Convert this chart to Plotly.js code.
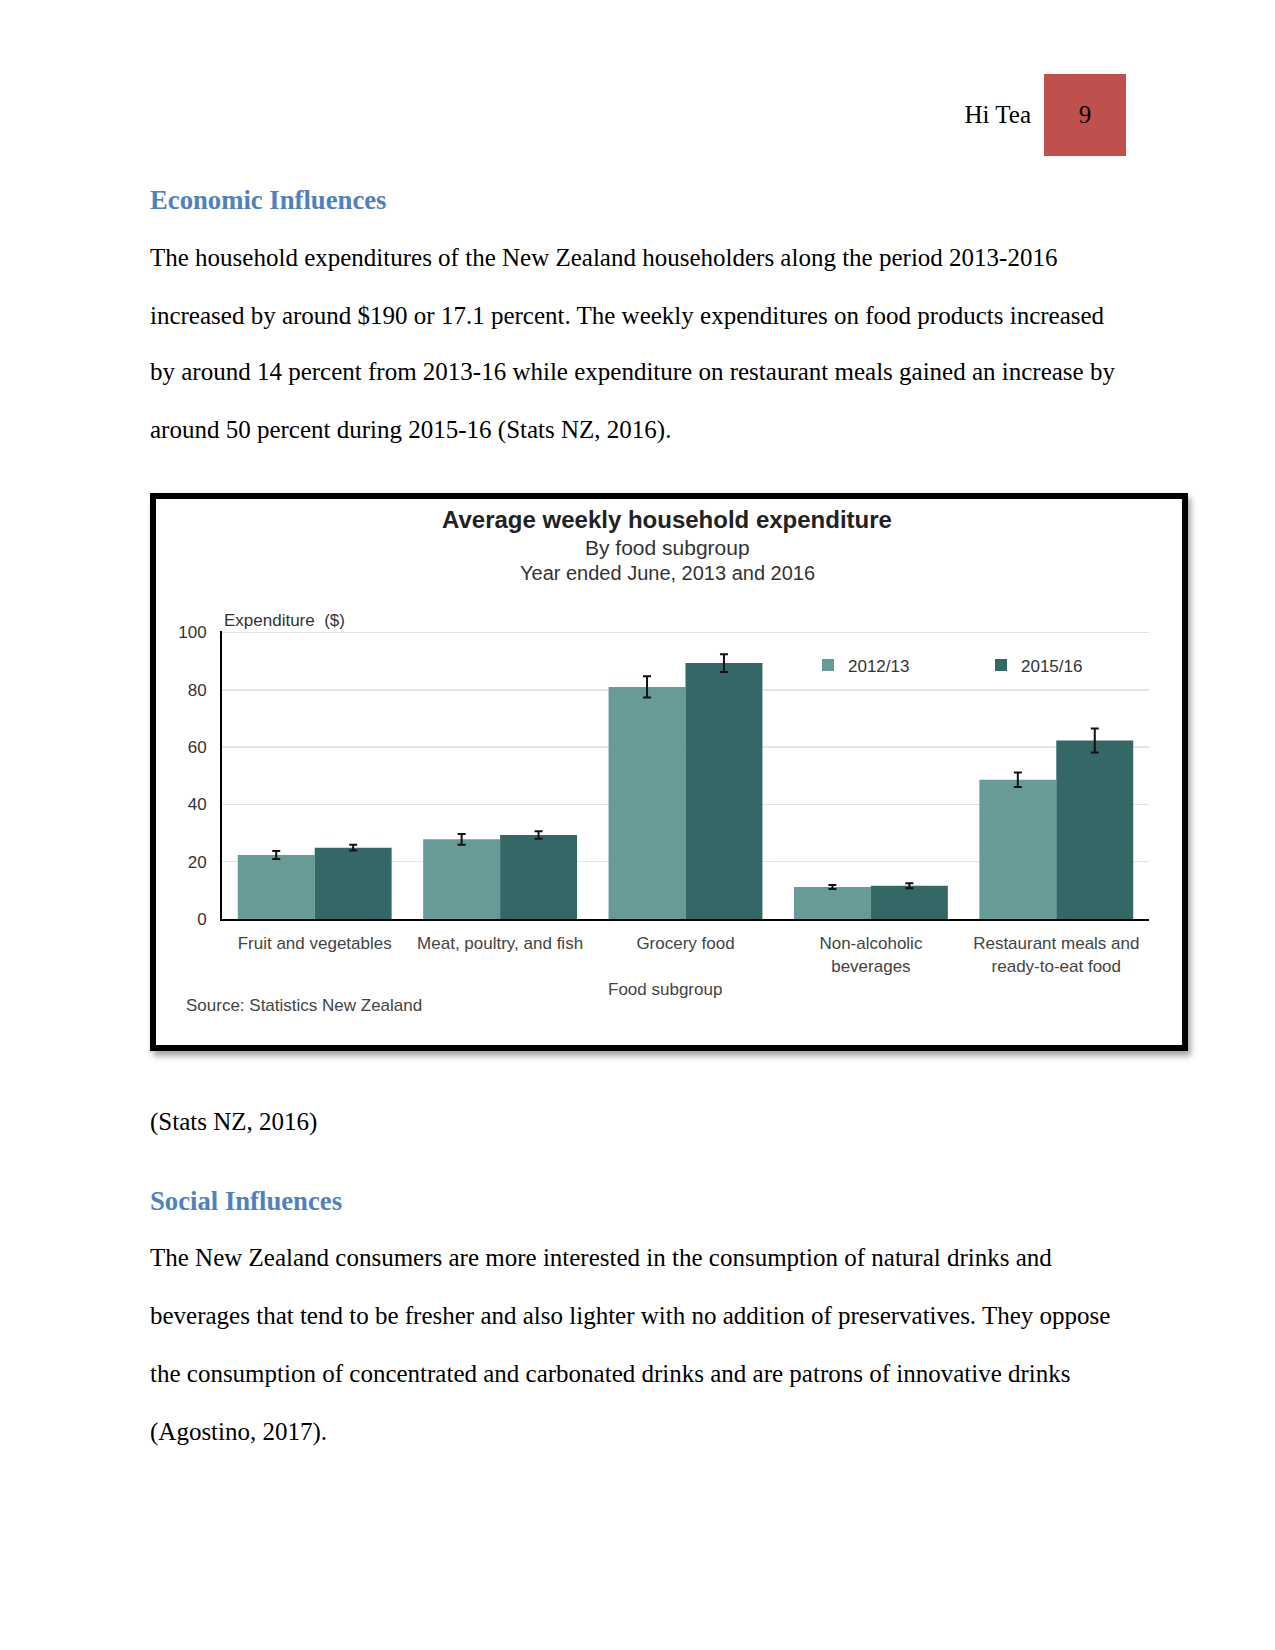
<!DOCTYPE html>
<html><head><meta charset="utf-8">
<script src="https://cdn.plot.ly/plotly-3.0.1.min.js"></script>
<style>
html,body{margin:0;padding:0;background:#fff;}
body{width:1275px;height:1650px;position:relative;overflow:hidden;font-family:"Liberation Serif","Times New Roman",serif;}
.t{position:absolute;left:150px;font-size:25px;line-height:30px;color:#000;white-space:nowrap;}
.h{position:absolute;left:150px;font-size:26.7px;line-height:30px;font-weight:bold;color:#4F81BD;white-space:nowrap;}
#hdr{position:absolute;right:244px;top:100px;font-size:25px;line-height:30px;}
#pg{position:absolute;left:1044px;top:74px;width:82px;height:82px;background:#C0504D;color:#000;font-size:25px;line-height:82px;text-align:center;}
#box{position:absolute;left:150px;top:493px;width:1038px;height:558px;border:6px solid #000;box-sizing:border-box;box-shadow:3px 5px 6px rgba(0,0,0,0.35);background:#fff;}
#chart{width:1026px;height:546px;}
</style></head>
<body>
<div id="hdr">Hi Tea</div>
<div id="pg">9</div>
<div class="h" style="top:185px">Economic Influences</div>
<div class="t" style="top:243px">The household expenditures of the New Zealand householders along the period 2013-2016</div>
<div class="t" style="top:301px">increased by around $190 or 17.1 percent. The weekly expenditures on food products increased</div>
<div class="t" style="top:357px">by around 14 percent from 2013-16 while expenditure on restaurant meals gained an increase by</div>
<div class="t" style="top:415px">around 50 percent during 2015-16 (Stats NZ, 2016).</div>
<div id="box"><div id="chart"></div></div>
<div class="t" style="top:1107px">(Stats NZ, 2016)</div>
<div class="h" style="top:1186px">Social Influences</div>
<div class="t" style="top:1243px">The New Zealand consumers are more interested in the consumption of natural drinks and</div>
<div class="t" style="top:1301px">beverages that tend to be fresher and also lighter with no addition of preservatives. They oppose</div>
<div class="t" style="top:1359px">the consumption of concentrated and carbonated drinks and are patrons of innovative drinks</div>
<div class="t" style="top:1417px">(Agostino, 2017).</div>
<script>
const categories = ['Fruit and vegetables','Meat, poultry, and fish','Grocery food','Non-alcoholic<br>beverages','Restaurant meals and<br>ready-to-eat food'];
const series2013 = '2012/13';
const series2016 = '2015/16';
const values2013 = [22.3, 27.8, 81.0, 11.2, 48.6];
const errors2013 = [1.4, 1.9, 3.7, 0.7, 2.5];
const values2016 = [24.9, 29.3, 89.3, 11.6, 62.3];
const errors2016 = [1.0, 1.3, 3.1, 0.9, 4.2];
const yTicks = [0, 20, 40, 60, 80, 100];

const F = '"Liberation Sans", Arial, sans-serif';
const W = 1026, H = 546, ML = 66, MR = 33, MB = 125.5;
const PW = W - ML - MR;           // plot width
const PH = 287.5 * 100.5 / 100;   // plot height (range 0..100.5)
const MT = H - MB - PH;
const py = rel => (H - MB - rel) / PH;   // pixel-from-top -> paper y
const px = rel => (rel - ML) / PW;       // pixel-from-left -> paper x

const traces = [
  {type:'bar', name:series2013, x:categories, y:values2013, marker:{color:'#679b98'},
   error_y:{type:'data', array:errors2013, visible:true, color:'#111', thickness:2, width:4}},
  {type:'bar', name:series2016, x:categories, y:values2016, marker:{color:'#336866'},
   error_y:{type:'data', array:errors2016, visible:true, color:'#111', thickness:2, width:4}}
];
const layout = {
  width:W, height:H,
  margin:{l:ML, r:MR, t:MT, b:MB, autoexpand:false},
  paper_bgcolor:'#fff', plot_bgcolor:'#fff',
  barmode:'group', bargap:0.17, bargroupgap:0,
  font:{family:F, color:'#333', size:17},
  showlegend:true,
  legend:{orientation:'h', x:px(652), y:py(166), xanchor:'left', yanchor:'middle',
          entrywidth:128, entrywidthmode:'pixels', itemwidth:30,
          font:{family:F, size:17, color:'#333'}, bgcolor:'rgba(0,0,0,0)'},
  xaxis:{type:'category', showline:true, linecolor:'#000', linewidth:2, ticks:'',
         ticklabelstandoff:8,
         tickfont:{family:F, size:17, color:'#444'}, showgrid:false, zeroline:false},
  yaxis:{range:[0,100.5], tickvals:yTicks, showline:true, linecolor:'#000', linewidth:2,
         gridcolor:'#e4e4e4', gridwidth:1.5, zeroline:false, ticks:'', ticklabelstandoff:10,
         tickfont:{family:F, size:17, color:'#333'}},
  title:{text:'<b>Average weekly household expenditure</b>', x:px(511), xref:'paper',
         y:1-21/H, yref:'container', xanchor:'center', yanchor:'middle', font:{family:F, size:24, color:'#222'}},
  annotations:[
    {text:'By food subgroup', xref:'paper', yref:'paper', x:px(511), y:py(48), xanchor:'center', yanchor:'middle', showarrow:false, font:{family:F, size:21, color:'#333'}},
    {text:'Year ended June, 2013 and 2016', xref:'paper', yref:'paper', x:px(511), y:py(73), xanchor:'center', yanchor:'middle', showarrow:false, font:{family:F, size:20, color:'#333'}},
    {text:'Expenditure  ($)', xref:'paper', yref:'paper', x:0, y:py(121), xanchor:'left', yanchor:'middle', showarrow:false, font:{family:F, size:17, color:'#333'}},
    {text:'Food subgroup', xref:'paper', yref:'paper', x:px(509), y:py(491), xanchor:'center', yanchor:'middle', showarrow:false, font:{family:F, size:17, color:'#444'}},
    {text:'Source: Statistics New Zealand', xref:'paper', yref:'paper', x:px(28), y:py(507), xanchor:'left', yanchor:'middle', showarrow:false, font:{family:F, size:17, color:'#444'}}
  ]
};
Plotly.newPlot('chart', traces, layout, {staticPlot:true, displayModeBar:false});
</script>
</body></html>
